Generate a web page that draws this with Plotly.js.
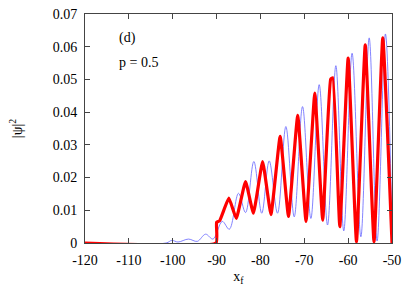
<!DOCTYPE html>
<html>
<head>
<meta charset="utf-8">
<script src="https://cdn.plot.ly/plotly-3.0.1.min.js"></script>
<style>html,body{margin:0;padding:0;background:#fff;}#chart{width:409px;height:286px;}</style>
</head>
<body>
<div id="chart"></div>
<script>
// Blue (thin) curve: extrema
const blueX = [-120, -101.5, -100.2, -98.8, -96.4, -94.4, -92.5, -90.8, -88.7, -87.1, -85.0, -83.4, -81.5, -79.7, -78.0, -76.1, -74.2, -72.3, -70.4, -68.5, -66.6, -64.7, -62.8, -61.0, -59.1, -57.1, -55.2, -53.4, -51.5, -50.0];
const blueY = [0, 0, 0.0008, 0.0003, 0.0012, 0.0005, 0.0027, 0.0012, 0.0066, 0.0042, 0.0152, 0.0093, 0.0249, 0.0091, 0.0251, 0.0091, 0.0356, 0.0080, 0.0417, 0.0075, 0.0484, 0.0055, 0.0542, 0.0037, 0.0580, 0.0019, 0.0627, 0.0006, 0.0639, 0.004];
// Red (thick) curve
const redX = [-120, -90.1, -90.0, -89.3, -87.2, -85.5, -83.4, -81.6, -79.5, -77.6, -75.5, -73.6, -71.5, -69.6, -67.6, -65.8, -64.0, -63.5, -61.9, -60.0, -58.1, -56.1, -54.1, -52.1, -50.0];
const redY = [0, 0, 0.0063, 0.0068, 0.0137, 0.0075, 0.0188, 0.0091, 0.0249, 0.0087, 0.0326, 0.0081, 0.0390, 0.0066, 0.0458, 0.0070, 0.0500, 0.0505, 0.0050, 0.0565, 0.0004, 0.0606, 0.0004, 0.0627, 0.0];

const xTicks = [-120, -110, -100, -90, -80, -70, -60, -50];
const yTicks = [0, 0.01, 0.02, 0.03, 0.04, 0.05, 0.06, 0.07];
const yTickText = ['0', '0.01', '0.02', '0.03', '0.04', '0.05', '0.06', '0.07'];

const font = {family: 'Liberation Serif, Times New Roman, serif', size: 14, color: '#000'};

const traces = [
  {x: blueX, y: blueY, type: 'scatter', mode: 'lines', line: {color: 'rgb(100,100,255)', width: 0.8, shape: 'spline', smoothing: 1}, hoverinfo: 'skip'},
  {x: redX, y: redY, type: 'scatter', mode: 'lines', line: {color: '#ff0000', width: 3.2, shape: 'spline', smoothing: 0.35}, hoverinfo: 'skip'}
];

const axisCommon = {
  showgrid: false, zeroline: false, showline: true, linecolor: '#444', linewidth: 1,
  mirror: 'ticks', ticks: 'inside', ticklen: 5, tickcolor: '#444', tickfont: font
};

const layout = {
  width: 409, height: 286,
  margin: {l: 85, r: 17, t: 14, b: 43},
  paper_bgcolor: '#fff', plot_bgcolor: '#fff',
  showlegend: false,
  font: font,
  xaxis: Object.assign({}, axisCommon, {
    range: [-120, -50], tickvals: xTicks, ticktext: xTicks.map(String),
    ticklabelstandoff: 4,
    title: {text: 'x<sub>f</sub>', font: font, standoff: 4}
  }),
  yaxis: Object.assign({}, axisCommon, {
    range: [0, 0.07], tickvals: yTicks, ticktext: yTickText,
    ticklabelstandoff: 4,
    title: {text: '|ψ|<sup>2</sup>', font: font, standoff: 26}
  }),
  annotations: [
    {text: '(d)', xref: 'paper', yref: 'paper', x: 0.105, y: 0.895, xanchor: 'left', yanchor: 'middle', showarrow: false, font: font},
    {text: 'p = 0.5', xref: 'paper', yref: 'paper', x: 0.105, y: 0.79, xanchor: 'left', yanchor: 'middle', showarrow: false, font: font}
  ]
};

Plotly.newPlot('chart', traces, layout, {displayModeBar: false, staticPlot: true});
</script>
</body>
</html>
